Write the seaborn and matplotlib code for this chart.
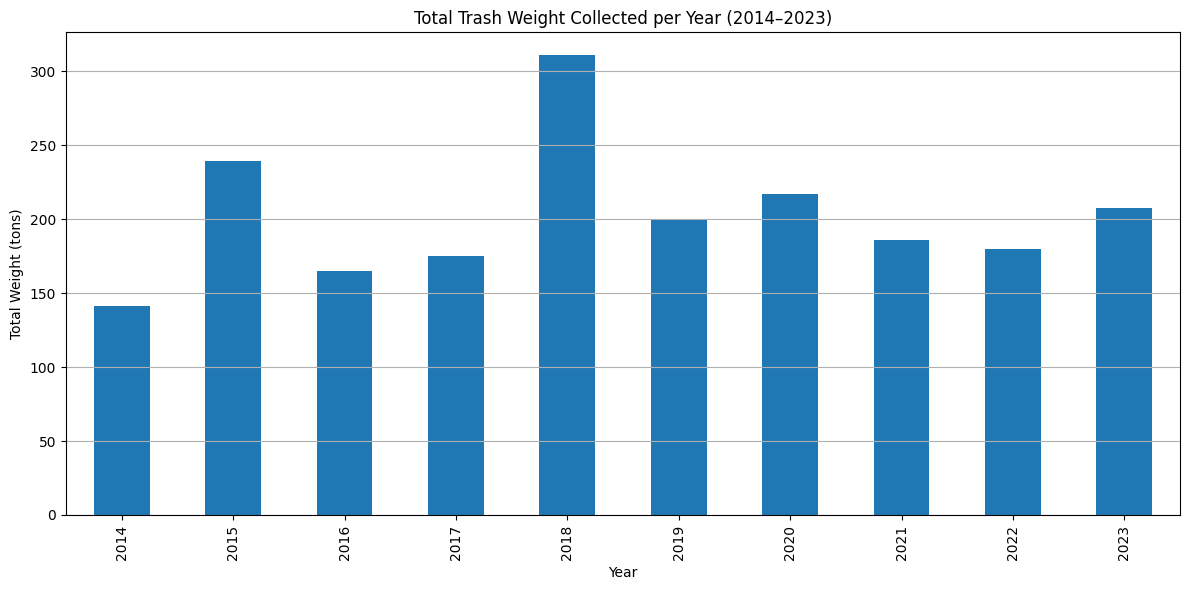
import matplotlib
matplotlib.use("Agg")
import matplotlib.pyplot as plt
import seaborn as sns
import pandas as pd

years = ["2014", "2015", "2016", "2017", "2018", "2019", "2020", "2021", "2022", "2023"]
weights = [141.4, 239.4, 165.1, 175.2, 311.0, 199.5, 217.1, 186.0, 180.0, 207.7]

df = pd.DataFrame({"Year": years, "Weight": weights})

W, H = 1189, 590
fig = plt.figure(figsize=(W / 100, H / 100), dpi=100)
ax = fig.add_axes([66 / W, (H - 515) / H, 1114 / W, 483 / H])
sns.barplot(data=df, x="Year", y="Weight", color="#1f77b4", saturation=1,
            width=0.5, ax=ax)
ax.set_title("Total Trash Weight Collected per Year (2014\u20132023)")
ax.set_xlabel("Year")
ax.set_ylabel("Total Weight (tons)")
ax.tick_params(axis="x", rotation=90)
ax.grid(axis="y")
ax.set_xlim(-0.5, len(years) - 0.5)
fig.savefig("out.png", dpi=100)
